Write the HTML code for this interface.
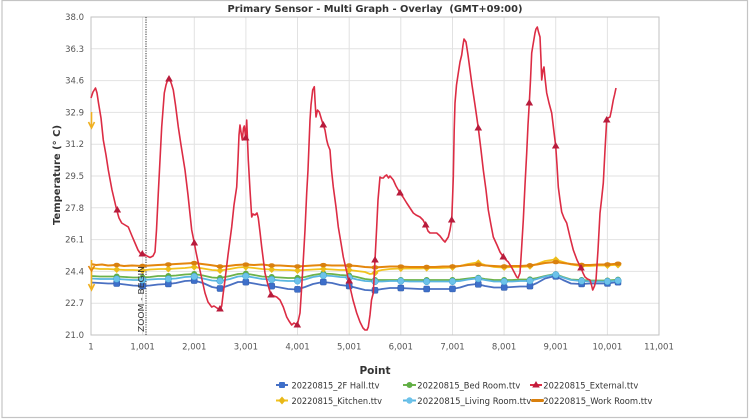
<!DOCTYPE html>
<html><head><meta charset="utf-8"><style>
html,body{margin:0;padding:0;background:#fff;}
body{width:750px;height:419px;overflow:hidden;}
svg{display:block;font-family:"DejaVu Sans","Liberation Sans",sans-serif;}
</style></head><body>
<svg id="s" width="750" height="419" viewBox="0 0 750 419" xmlns="http://www.w3.org/2000/svg">
<rect x="0" y="0" width="750" height="419" fill="#fff"/>
<rect x="2" y="0.5" width="745.5" height="417" fill="none" stroke="#c4c4c4" stroke-width="1.2"/>
<!-- grid -->
<g stroke="#e2e2e2" stroke-width="1">
<line x1="142.6" y1="17" x2="142.6" y2="335"/><line x1="194.3" y1="17" x2="194.3" y2="335"/>
<line x1="245.9" y1="17" x2="245.9" y2="335"/><line x1="297.5" y1="17" x2="297.5" y2="335"/>
<line x1="349.2" y1="17" x2="349.2" y2="335"/><line x1="400.8" y1="17" x2="400.8" y2="335"/>
<line x1="452.5" y1="17" x2="452.5" y2="335"/><line x1="504.1" y1="17" x2="504.1" y2="335"/>
<line x1="555.7" y1="17" x2="555.7" y2="335"/><line x1="607.4" y1="17" x2="607.4" y2="335"/>
<line x1="91" y1="48.8" x2="659" y2="48.8"/><line x1="91" y1="80.6" x2="659" y2="80.6"/>
<line x1="91" y1="112.4" x2="659" y2="112.4"/><line x1="91" y1="144.2" x2="659" y2="144.2"/>
<line x1="91" y1="176" x2="659" y2="176"/><line x1="91" y1="207.8" x2="659" y2="207.8"/>
<line x1="91" y1="239.6" x2="659" y2="239.6"/><line x1="91" y1="271.4" x2="659" y2="271.4"/>
<line x1="91" y1="303.2" x2="659" y2="303.2"/>
</g>
<rect x="91" y="17" width="568" height="318" fill="none" stroke="#c2c2c2" stroke-width="1"/>
<!-- title -->
<text x="375" y="12" text-anchor="middle" font-size="10" font-weight="bold" fill="#333" textLength="295" lengthAdjust="spacingAndGlyphs">Primary Sensor - Multi Graph - Overlay&#160; (GMT+09:00)</text>
<!-- y labels -->
<g font-size="8.5" fill="#555" text-anchor="end">
<text x="84" y="20">38.0</text><text x="84" y="51.8">36.3</text><text x="84" y="83.6">34.6</text>
<text x="84" y="115.4">32.9</text><text x="84" y="147.2">31.2</text><text x="84" y="179">29.5</text>
<text x="84" y="210.8">27.8</text><text x="84" y="242.6">26.1</text><text x="84" y="274.4">24.4</text>
<text x="84" y="306.2">22.7</text><text x="84" y="338">21.0</text>
</g>
<!-- x labels -->
<g font-size="8.5" fill="#555" text-anchor="middle">
<text x="91" y="349.5">1</text><text x="142.6" y="349.5">1,001</text><text x="194.3" y="349.5">2,001</text>
<text x="245.9" y="349.5">3,001</text><text x="297.5" y="349.5">4,001</text><text x="349.2" y="349.5">5,001</text>
<text x="400.8" y="349.5">6,001</text><text x="452.5" y="349.5">7,001</text><text x="504.1" y="349.5">8,001</text>
<text x="555.7" y="349.5">9,001</text><text x="607.4" y="349.5">10,001</text><text x="659" y="349.5">11,001</text>
</g>
<text transform="translate(60,175) rotate(-90)" text-anchor="middle" font-size="10" font-weight="bold" fill="#333" textLength="100" lengthAdjust="spacingAndGlyphs">Temperature (° C)</text>
<text x="375" y="374" text-anchor="middle" font-size="10.5" font-weight="bold" fill="#333">Point</text>

<!-- zoom line -->
<line x1="146" y1="17" x2="146" y2="335" stroke="#333" stroke-width="1" stroke-dasharray="1.2,1.2"/>

<!-- flat series -->
<g fill="none" stroke-width="1.8" stroke-linejoin="round">
<polyline id="pb" stroke="#4a70c2" points="91,282.5 100,283 108,283.5 116.7,283.5 125,284.5 133,285.5 142.6,286 150,285.5 158,284.5 168,284 176,283 185,281 194,280.5 203,283 212,287 220,288.5 230,285 238,282 245,282 254,283.5 262,285 271,286 280,287.5 288,289 297,289.5 305,287 313,284 323,282 332,283 340,285 349,286 357,288 365,290 374,290.5 382,289 390,288 400,288 410,288.5 420,289 430,289 440,289 452,289 460,287.5 468,285 477,284 485,286 494,287.5 503,287.5 512,287 520,286.5 529,286.5 537,283 545,278.5 555,276 563,280 571,283.5 581,284 590,283.5 598,283.5 607,283.5 614,282.5 620,282"/>
<polyline id="pg" stroke="#6cb24a" points="91,276 100,276.5 108,276.5 116.7,276.5 125,277 133,277.5 142.6,277.5 150,277 158,276 168,276 176,275.5 185,274.5 194,274 203,275.5 212,277.5 220,278 230,276 238,274 245,273.5 254,275 262,276.5 271,277 280,277.5 288,278 297,278 305,277 313,275 323,273.5 332,274 340,275 349,275.5 357,277 365,279 374,280 382,280 390,280 400,280 410,280 420,280 430,280 440,280 452,280 460,279.5 468,278.5 477,277.5 485,279 494,280 503,280 512,280 520,279.5 529,279.5 537,278 545,276 555,274 563,277 571,279.5 581,280 590,280.5 598,280.5 607,280.5 614,280 620,279.5"/>
<polyline id="pl" stroke="#5ab6e0" points="91,278.5 100,279 108,279 116.7,279 125,279.5 133,280 142.6,280 150,279.5 158,279 168,279 176,278.5 185,277 194,276.5 203,278.5 212,280.5 220,281 230,279 238,276.5 245,276 254,277.5 262,279 271,279.5 280,280.5 288,281 297,281 305,279.5 313,277 323,275.5 332,276 340,277 349,277.5 357,279.5 365,281 374,281.5 382,281.5 390,281 400,281 410,281.5 420,281.5 430,281.5 440,281.5 452,281.5 460,281 468,279.5 477,278.5 485,280 494,281.5 503,281.5 512,281.5 520,281 529,281 537,279 545,276.5 555,274.5 563,277.5 571,280 581,281 590,281.5 598,281.5 607,281.5 614,281 620,280.5"/>
<polyline id="py" stroke="#f2c21e" points="91,268 100,269 108,269 116.7,269.5 125,270 133,270 142.6,270.5 150,269.5 160,269 168,269 176,268.5 185,268 194,267 203,268.5 212,270 220,270.5 230,269 238,267.5 245,267 254,268 262,269 271,269.5 280,270 288,270 297,270.5 305,270 313,269.5 323,269 332,269.5 340,270 349,270 357,271 365,272 370,274 374,273.5 378,271 382,270 390,269 400,268.5 410,268.5 420,268.5 430,268 440,268 452,267.5 460,266 468,264 477,262.5 485,265 494,267 503,267.5 512,267 520,267 529,266.5 537,264 545,261 555,259.5 563,262 571,264.5 581,266 590,266 598,265.5 607,265.5 614,265 620,265"/>
<polyline id="po" stroke="#e4860c" stroke-width="2" points="91,264 96,265 102,264.5 108,265.5 116.7,265 124,266 132,265.5 142.6,266 150,265.5 158,265 168,264.5 176,264 185,263.5 194,263 202,264 210,265 220,266.5 228,266 236,265 245,264.5 254,265 262,264.5 271,265.5 280,265.5 288,266 297,266.5 305,266 313,265.5 323,265 332,265.5 340,265.5 349,265.5 357,266 365,267 374,267.5 382,267 390,266.5 400,266.5 410,267 418,267 426,267 435,267 443,266.5 452,266.5 460,266 468,265 477,264.5 485,265.5 494,266 503,266.5 512,266 520,266 529,265.5 537,264.5 545,263 555,262 563,263 571,264 581,265 590,265 598,264.5 607,264.5 614,264 620,263.5"/>
</g>
<!-- start spikes -->
<g stroke-width="1.6" fill="none">
<line x1="91.5" y1="112" x2="91.5" y2="128" stroke="#f0b020"/>
<polyline points="88.5,122 91.5,128 94.5,122" stroke="#f0b020"/>
<line x1="91.5" y1="260" x2="91.5" y2="290" stroke="#f0b020"/>
<polyline points="88.5,284 91.5,290 94.5,284" stroke="#f0b020"/>
<polyline points="88.5,266 91.5,271 94.5,266" stroke="#e4860c"/>
</g>
<g id="mk"></g>

<!-- red external -->
<polyline fill="none" stroke="#dc2c44" stroke-width="1.6" stroke-linejoin="round" points="91,98 93,92 95.5,88 97,93 98.5,103 101,118 103.3,140 106,155 108.3,170 112,190 116.7,210 119,218 121.7,223 125,225 128.3,227 132,236 135,243 138,250 140,253 144,254 147,256 150,257.5 153,256 155,252 156.5,230 158.3,193 160,160 161.7,127 163,110 164.3,93 166,85 168.3,78 170,80 171.5,84 173.3,90 175.5,105 178.3,127 181,145 185,170 188,195 191.7,230 194.3,243 196,252 198.3,263 201,275 205,293 208,302 211.7,307 214,306 217,308 220,310 221.7,306 223,295 225,280 228,255 231.7,227 234,205 236.7,187 238,160 239,135 240,125 241,132 242.3,140 243.5,128 244.3,126 245.7,138 246.7,120 247.5,140 248.3,160 250,190 251.7,217 253,214 255,215 257,213 258.3,218 260,232 261.7,247 265,273 268,285 271,295 274,296 276.7,297 280,300 283.3,307 286.7,317 289,321 291.7,325 294,323 297.3,325 300,313 301.5,290 303.3,260 305,230 306.7,193 308,170 310,120 311,105 312.7,90 314.3,86.7 315,100 316,117 317.5,110 319.3,112 321.7,120 323.3,125 325,130 326.7,140 328,145 330,150 331.5,170 333.3,187 336,207 338.3,227 341,243 343.3,257 347,273 350,287 353,300 356.7,313 360,322 363,328 365,330 367,330 368.3,327 370,315 371.5,300 373.3,293 375,260 376.7,227 378,200 380,177 381.5,178 383.3,178 385,176 386.7,175 388.5,178 390,176 393.3,180 396,186 400,193 403,197 406.7,203 410,208 413.3,213 416,215 420,217 423,220 425.7,225 428,231 430,233 433,233 436.7,233 440,236 443,240 445,242 448.3,237 450,230 451.7,220 452.5,200 453.3,177 454.2,130 455,103 456.5,85 458.3,73 460,62 461.7,55 463,45 464,39 466,42 468,55 470,70 472,85 475,105 478.3,128 481,150 483.3,170 486,190 488.3,210 491,225 493.3,237 497,245 500,252 503.3,257 506,260 508.3,262 512,268 516.7,277 518,278 520,273 521.5,250 523.3,220 525,185 526.7,153 528,125 529.3,103 530.5,80 531.7,53 533,45 535,33 536,29 537.3,27 538.5,32 540,37 541,60 541.7,80 543,70 544,67 545,78 546.7,93 549,103 551.7,113 553.5,128 555.7,146 557,165 558.3,187 560,200 561.7,212 564,218 566.7,223 570,237 573.3,250 577,260 581,268 583,273 585,277 587.5,279 590,280 591.5,285 592.7,290 594.5,286 596,280 598,250 600,213 601.5,200 603.3,183 605,150 606.7,120 608,118 610,117 611.5,110 613.3,100 614.5,95 616,88"/>
<g fill="#b81c3c">
<path d="M117.3,206 l3.8,6.5 h-7.6z"/><path d="M142.3,250 l3.8,6.5 h-7.6z"/><path d="M169,75 l3.8,6.5 h-7.6z"/>
<path d="M194.3,239 l3.8,6.5 h-7.6z"/><path d="M220,305 l3.8,6.5 h-7.6z"/><path d="M245.7,134 l3.8,6.5 h-7.6z"/>
<path d="M271,291 l3.8,6.5 h-7.6z"/><path d="M297.3,321 l3.8,6.5 h-7.6z"/><path d="M323.3,121 l3.8,6.5 h-7.6z"/>
<path d="M349.2,277 l3.8,6.5 h-7.6z"/><path d="M375,256 l3.8,6.5 h-7.6z"/><path d="M400,189 l3.8,6.5 h-7.6z"/>
<path d="M425.7,221 l3.8,6.5 h-7.6z"/><path d="M451.7,216 l3.8,6.5 h-7.6z"/><path d="M478.3,124 l3.8,6.5 h-7.6z"/>
<path d="M503.3,253 l3.8,6.5 h-7.6z"/><path d="M529.3,99 l3.8,6.5 h-7.6z"/><path d="M555.7,142 l3.8,6.5 h-7.6z"/>
<path d="M581,264 l3.8,6.5 h-7.6z"/><path d="M606.7,116 l3.8,6.5 h-7.6z"/>
</g>
<!-- zoom text -->
<text transform="translate(144,332) rotate(-90)" font-size="8" fill="#333" textLength="66" lengthAdjust="spacingAndGlyphs">ZOOM - BEGIN</text>

<!-- legend -->
<g font-size="9" fill="#333">
<line x1="276" y1="385" x2="288" y2="385" stroke="#4a70c2" stroke-width="2"/><rect x="279" y="382" width="6" height="6" rx="1" fill="#3e6fca"/>
<text x="291.5" y="388.5" textLength="88" lengthAdjust="spacingAndGlyphs">20220815_2F Hall.ttv</text>
<line x1="403" y1="385" x2="416" y2="385" stroke="#6cb24a" stroke-width="2"/><circle cx="409.5" cy="385" r="3" fill="#5fae45"/>
<text x="417.3" y="388.5" textLength="103" lengthAdjust="spacingAndGlyphs">20220815_Bed Room.ttv</text>
<line x1="530" y1="385" x2="542" y2="385" stroke="#dc2c44" stroke-width="2"/><path d="M536,381 l3.8,6.5 h-7.6z" fill="#c01c3c"/>
<text x="543.3" y="388.5" textLength="95" lengthAdjust="spacingAndGlyphs">20220815_External.ttv</text>
<line x1="276" y1="400.5" x2="288" y2="400.5" stroke="#f2c21e" stroke-width="2"/><path d="M282,396.5 l3.5,4 l-3.5,4 l-3.5,-4z" fill="#e8b818"/>
<text x="291.5" y="404" textLength="90.5" lengthAdjust="spacingAndGlyphs">20220815_Kitchen.ttv</text>
<line x1="403" y1="400.5" x2="416" y2="400.5" stroke="#5ab6e0" stroke-width="2"/><circle cx="409.5" cy="400.5" r="3.2" fill="#6cc2ea"/>
<text x="417.3" y="404" textLength="114" lengthAdjust="spacingAndGlyphs">20220815_Living Room.ttv</text>
<rect x="531" y="399" width="13" height="3" rx="1.2" fill="#d9800e"/>
<text x="543.3" y="404" textLength="109" lengthAdjust="spacingAndGlyphs">20220815_Work Room.ttv</text>
</g>
</svg>
<script>
(function(){
var NS="http://www.w3.org/2000/svg";
var g=document.getElementById("mk");
function pts(id){return document.getElementById(id).getAttribute("points").trim().split(/\s+/).map(function(p){var a=p.split(",");return [+a[0],+a[1]];});}
function yAt(P,x){for(var i=0;i<P.length-1;i++){if(x>=P[i][0]&&x<=P[i+1][0]){var t=(x-P[i][0])/(P[i+1][0]-P[i][0]);return P[i][1]+t*(P[i+1][1]-P[i][1]);}}return P[P.length-1][1];}
var xs=[];for(var k=0;k<20;k++)xs.push(116.7+25.83*k);xs.push(618);
function el(n,a){var e=document.createElementNS(NS,n);for(var k in a)e.setAttribute(k,a[k]);g.appendChild(e);}
var B=pts("pb"),G=pts("pg"),L=pts("pl"),Y=pts("py"),O=pts("po");
xs.forEach(function(x){
 var y=yAt(B,x);el("rect",{x:x-3,y:y-3,width:6,height:6,rx:1,fill:"#3e6fca",stroke:"#2d5aa8","stroke-width":0.5});
 y=yAt(G,x);el("circle",{cx:x,cy:y,r:3,fill:"#5fae45"});
 y=yAt(L,x);el("circle",{cx:x,cy:y,r:3.3,fill:"#6cc2ea",stroke:"#3f9fcf","stroke-width":0.5});
 y=yAt(Y,x);el("path",{d:"M"+x+","+(y-3.5)+" l3.5,3.5 l-3.5,3.5 l-3.5,-3.5z",fill:"#ecbc1a"});
 y=yAt(O,x);el("ellipse",{cx:x,cy:y,rx:3.5,ry:2.2,fill:"#d9800e"});
});
})();
</script>
</body></html>
